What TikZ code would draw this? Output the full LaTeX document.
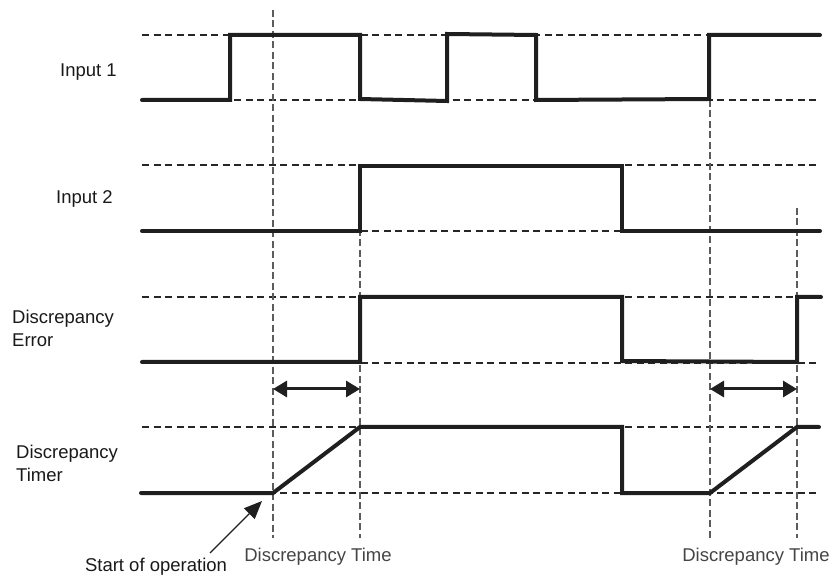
\documentclass[tikz,border=0pt]{standalone}
\usepackage{fontspec}
\setmainfont{Liberation Sans}
\usetikzlibrary{arrows.meta}
\definecolor{vgray}{HTML}{5C5C5C}
\definecolor{tgray}{HTML}{454545}
\tikzset{
  sig/.style={line width=4pt, line cap=round, line join=miter, black!88},
  hdash/.style={line width=1.7pt, dash pattern=on 7pt off 4.5pt, black!85},
  vdash/.style={line width=2.6pt, dash pattern=on 7pt off 3.5pt, vgray},
  lbl/.style={inner sep=0pt, font=\fontsize{18.5}{23}\selectfont, text=black!90, align=left},
  tlbl/.style={inner sep=0pt, font=\fontsize{18.5}{23}\selectfont, text=tgray},
  dtarrow/.style={line width=3pt, {Triangle[length=14pt,width=16pt]}-{Triangle[length=14pt,width=16pt]}, black!88, shorten <=-1pt, shorten >=-1pt},
  ptr/.style={line width=1.3pt, -{Triangle[length=18pt,width=15pt]}, black!88}
}
\begin{document}
\begin{tikzpicture}[x=1pt,y=-1pt]
\useasboundingbox (0,0) rectangle (836,577);

% horizontal reference levels
\foreach \yy in {35,100,165,231,297,363,427,493}
  \draw[hdash] (142,\yy) -- (817,\yy);

% vertical dashed time markers
\draw[vdash] (273,10) -- (273,538);
\draw[vdash] (360,208) -- (360,538);
\draw[vdash] (710,100) -- (710,538);
\draw[vdash] (797,208) -- (797,538);

% Input 1
\draw[sig] (142,100) -- (230,100) -- (230,35) -- (360,35) -- (360,99) -- (447,101) -- (447,34) -- (536,35) -- (536,100) -- (709,99) -- (709,35) -- (820,35);
% Input 2
\draw[sig] (142,231) -- (360,231) -- (360,166) -- (622,166) -- (622,231) -- (820,231);
% Discrepancy Error
\draw[sig] (142,362) -- (360,362) -- (360,297) -- (622,297) -- (622,361) -- (797,362) -- (797,297) -- (821,297);
% Discrepancy Timer
\draw[sig] (141,493) -- (273,493) -- (360,427) -- (622,427) -- (622,493) -- (710,493) -- (797,427) -- (819,427);

% labels
\node[lbl, anchor=east] (in1) at (117,72) {Input 1};
\node[lbl, anchor=east] (in2) at (113,199) {Input 2};
\node[lbl, anchor=west] (derr) at (12,328) {Discrepancy\\Error};
\node[lbl, anchor=west] (dtim) at (16,463) {Discrepancy\\Timer};

% discrepancy time arrows
\coordinate (a1) at (274,389);
\coordinate (a2) at (359,389);
\coordinate (b1) at (711,389);
\coordinate (b2) at (796,389);
\draw[dtarrow] (a1) -- (a2);
\draw[dtarrow] (b1) -- (b2);

% bottom labels
\node[tlbl] (dt1) at (318,557) {Discrepancy Time};
\node[tlbl] (dt2) at (756,557) {Discrepancy Time};
\node[lbl] (start) at (156,567) {Start of operation};
\coordinate (st) at (210,553);
\coordinate (sp) at (262,501);
\draw[ptr] (st) -- (sp);
\end{tikzpicture}
\end{document}
